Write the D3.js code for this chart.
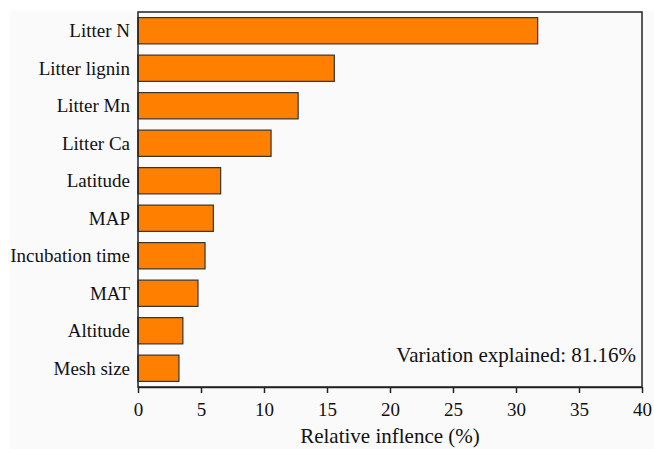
<!DOCTYPE html>
<html lang="en">
<head>
<meta charset="UTF-8">
<title>Relative influence</title>
<script src="https://d3js.org/d3.v7.min.js"></script>
<style>
  body { margin: 0; background: #fff; }
  svg text { font-family: 'Liberation Serif', Tinos, 'Times New Roman', 'DejaVu Serif', serif !important; fill: #111; }
</style>
</head>
<body>
<script>
  // predictors, top to bottom
  const predictors = ["Litter N", "Litter lignin", "Litter Mn", "Litter Ca", "Latitude",
                      "MAP", "Incubation time", "MAT", "Altitude", "Mesh size"];
  // relative influence (%)
  const influence = [31.72, 15.58, 12.71, 10.56, 6.56, 5.98, 5.32, 4.76, 3.56, 3.25];
  const xTicks = [0, 5, 10, 15, 20, 25, 30, 35, 40];
  const note = "Variation explained: 81.16%";

  const width = 654, height = 449;
  const margin = {top: 12, right: 12, bottom: 62, left: 138};

  const svg = d3.select("body").append("svg")
      .attr("width", width)
      .attr("height", height);

  // faint panel behind the figure
  svg.append("rect")
      .attr("x", 10).attr("y", 11)
      .attr("width", width - 10).attr("height", height - 11)
      .attr("fill", "#fafafa");

  const x = d3.scaleLinear().domain([0, 40]).range([margin.left, width - margin.right]);
  const y = d3.scaleBand().domain(predictors)
      .range([margin.top, height - margin.bottom])
      .paddingInner(0.3).paddingOuter(0.15);

  const data = predictors.map((p, i) => ({name: p, value: influence[i]}));

  // bars
  svg.append("g").selectAll("rect")
      .data(data)
      .enter().append("rect")
      .attr("x", x(0))
      .attr("y", d => y(d.name))
      .attr("width", d => x(d.value) - x(0))
      .attr("height", y.bandwidth())
      .attr("fill", "#ff8000")
      .attr("stroke", "#333")
      .attr("stroke-width", 1.2);

  // frame
  svg.append("rect")
      .attr("x", x(0)).attr("y", margin.top)
      .attr("width", x(40) - x(0))
      .attr("height", height - margin.bottom - margin.top)
      .attr("fill", "none")
      .attr("stroke", "#222")
      .attr("stroke-width", 1.5);

  // x axis
  const xAxis = svg.append("g")
      .attr("transform", `translate(0,${height - margin.bottom})`)
      .call(d3.axisBottom(x).tickValues(xTicks).tickSize(6).tickPadding(10).tickSizeOuter(0));
  xAxis.attr("font-family", null);
  xAxis.select(".domain").attr("stroke", "#222").attr("stroke-width", 1.5);
  xAxis.selectAll(".tick line").attr("stroke", "#222").attr("stroke-width", 1.5);
  xAxis.selectAll(".tick text")
      .style("font-size", "19px")
      .attr("fill", "#111");

  // y labels
  svg.append("g").selectAll("text")
      .data(predictors)
      .enter().append("text")
      .attr("x", 130)
      .attr("y", d => y(d) + y.bandwidth() / 2)
      .attr("dy", "0.35em")
      .attr("text-anchor", "end")
      .style("font-size", "19px")
      .text(d => d);

  // axis title
  svg.append("text")
      .attr("x", (x(0) + x(40)) / 2)
      .attr("y", 443)
      .attr("text-anchor", "middle")
      .style("font-size", "21px")
      .text("Relative inflence (%)");

  // annotation
  svg.append("text")
      .attr("x", 636)
      .attr("y", 362)
      .attr("text-anchor", "end")
      .style("font-size", "21px")
      .text(note);
</script>
</body>
</html>
